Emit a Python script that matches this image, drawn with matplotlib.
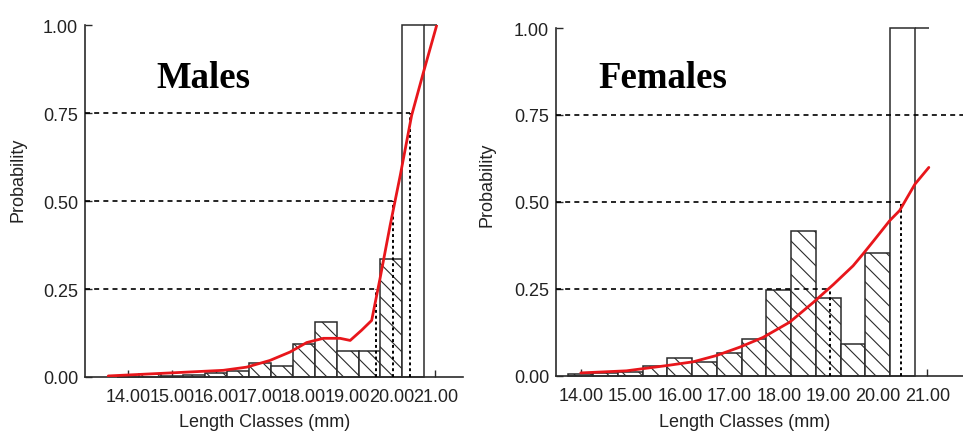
import matplotlib
matplotlib.use("Agg")
import matplotlib.pyplot as plt

# length-class centres (mm), bins 0.5 mm wide
centers = [14.0, 14.5, 15.0, 15.5, 16.0, 16.5, 17.0, 17.5,
           18.0, 18.5, 19.0, 19.5, 20.0, 20.5, 21.0]
bin_width = 0.5

# observed proportion mature per length class
males = [0.0, 0.008, 0.004, 0.006, 0.010, 0.018, 0.041, 0.032,
         0.094, 0.157, 0.074, 0.074, 0.336, 1.0, 1.0]
females = [0.004, 0.008, 0.012, 0.029, 0.052, 0.040, 0.065, 0.105,
           0.247, 0.415, 0.223, 0.091, 0.353, 1.0, 1.0]

# fitted maturity curves (red)
male_fit_x = [13.55, 15.03, 16.17, 16.70, 17.23, 17.69, 18.07, 18.45, 18.83,
              19.06, 19.32, 19.55, 19.74, 19.97, 20.20, 20.46, 20.73, 21.03]
male_fit_y = [0.003, 0.012, 0.019, 0.028, 0.047, 0.071, 0.098, 0.110, 0.110,
              0.104, 0.133, 0.161, 0.280, 0.431, 0.573, 0.744, 0.867, 1.000]
female_fit_x = [14.0, 14.92, 15.73, 16.27, 16.74, 17.21, 17.68, 18.22, 18.69,
                19.10, 19.50, 19.70, 19.91, 20.24, 20.44, 20.75, 21.03]
female_fit_y = [0.008, 0.014, 0.029, 0.040, 0.058, 0.082, 0.110, 0.154, 0.210,
                0.262, 0.316, 0.350, 0.387, 0.446, 0.475, 0.551, 0.599]

# L25 / L50 / L75 reference levels (None = not reached)
levels = [0.25, 0.50, 0.75]
male_L = [19.64, 20.04, 20.42]
female_L = [19.03, 20.46, None]

x_ticks = [14, 15, 16, 17, 18, 19, 20, 21]
y_ticks = [0.0, 0.25, 0.5, 0.75, 1.0]

plt.rcParams["font.family"] = ["Liberation Sans", "DejaVu Sans"]
plt.rcParams["hatch.linewidth"] = 0.8

INK = "#2b2b2b"
RED = "#e8161b"


def draw_panel(ax, heights, fit_x, fit_y, lvals, xlim):
    ax.set_xlim(*xlim)
    ax.set_ylim(0, 1.0)

    # hatched bars for partially mature classes, open bars for fully mature
    for c, h in zip(centers[:-1], heights[:-1]):
        ax.bar(c, h, width=bin_width, facecolor="white", edgecolor=INK,
               linewidth=1.1, hatch="\\\\" if h < 1 else None,
               zorder=2, clip_on=False)
    # last class is only drawn up to its centre
    ax.hlines(heights[-1], centers[-1] - bin_width / 2, centers[-1] + 0.03,
              color=INK, linewidth=1.1, zorder=2, clip_on=False)

    for lev, L in zip(levels, lvals):
        if L is None:
            ax.axhline(lev, color="black", linewidth=1.2,
                       linestyle=(0, (3, 2.5)), zorder=3)
            continue
        ax.hlines(lev, xlim[0], L, color="black", linewidth=1.2,
                  linestyle=(0, (3, 2.5)), zorder=3)
        ax.vlines(L, 0, lev, color="black", linewidth=1.4,
                  linestyle=(0, (1.5, 1.5)), zorder=3)

    ax.plot(fit_x, fit_y, color=RED, linewidth=2.0, zorder=4,
            solid_capstyle="round")

    for s in ("top", "right"):
        ax.spines[s].set_visible(False)
    for s in ("left", "bottom"):
        ax.spines[s].set_color(INK)
        ax.spines[s].set_linewidth(1.2)
    ax.set_xticks(x_ticks)
    ax.set_xticklabels([f"{t:.2f}" for t in x_ticks])
    ax.set_yticks(y_ticks)
    ax.set_yticklabels([f"{t:.2f}" for t in y_ticks])
    ax.tick_params(direction="in", length=5, width=1.0, colors=INK,
                   labelsize=13, labelcolor="#222222")
    ax.tick_params(axis="x", pad=8)
    ax.tick_params(axis="y", pad=5)


fig = plt.figure(figsize=(9.63, 4.35), dpi=100)
ax1 = fig.add_axes([85 / 963, 57 / 435, 378 / 963, 351.6 / 435])
ax2 = fig.add_axes([556 / 963, 58.3 / 435, 407 / 963, 347.7 / 435])

draw_panel(ax1, males, male_fit_x, male_fit_y, male_L, (13.02, 21.63))
draw_panel(ax2, females, female_fit_x, female_fit_y, female_L, (13.5, 21.72))

title_kw = dict(family=["Liberation Serif", "DejaVu Serif"], weight="bold",
                fontsize=26.5, ha="center", va="baseline", color="black")
fig.text(203 / 963, 1 - 88 / 435, "Males", **title_kw)
fig.text(663 / 963, 1 - 88 / 435, "Females", **title_kw)

lab_kw = dict(fontsize=13, color="#222222", ha="center", va="center")
fig.text(18 / 963, 1 - 180 / 435, "Probability", rotation=90, **lab_kw)
fig.text(487 / 963, 1 - 185 / 435, "Probability", rotation=90, **lab_kw)
fig.text(265 / 963, 1 - 423 / 435, "Length Classes (mm)", **lab_kw)
fig.text(745 / 963, 1 - 423 / 435, "Length Classes (mm)", **lab_kw)

fig.savefig("out.png", dpi=100, facecolor="white")
